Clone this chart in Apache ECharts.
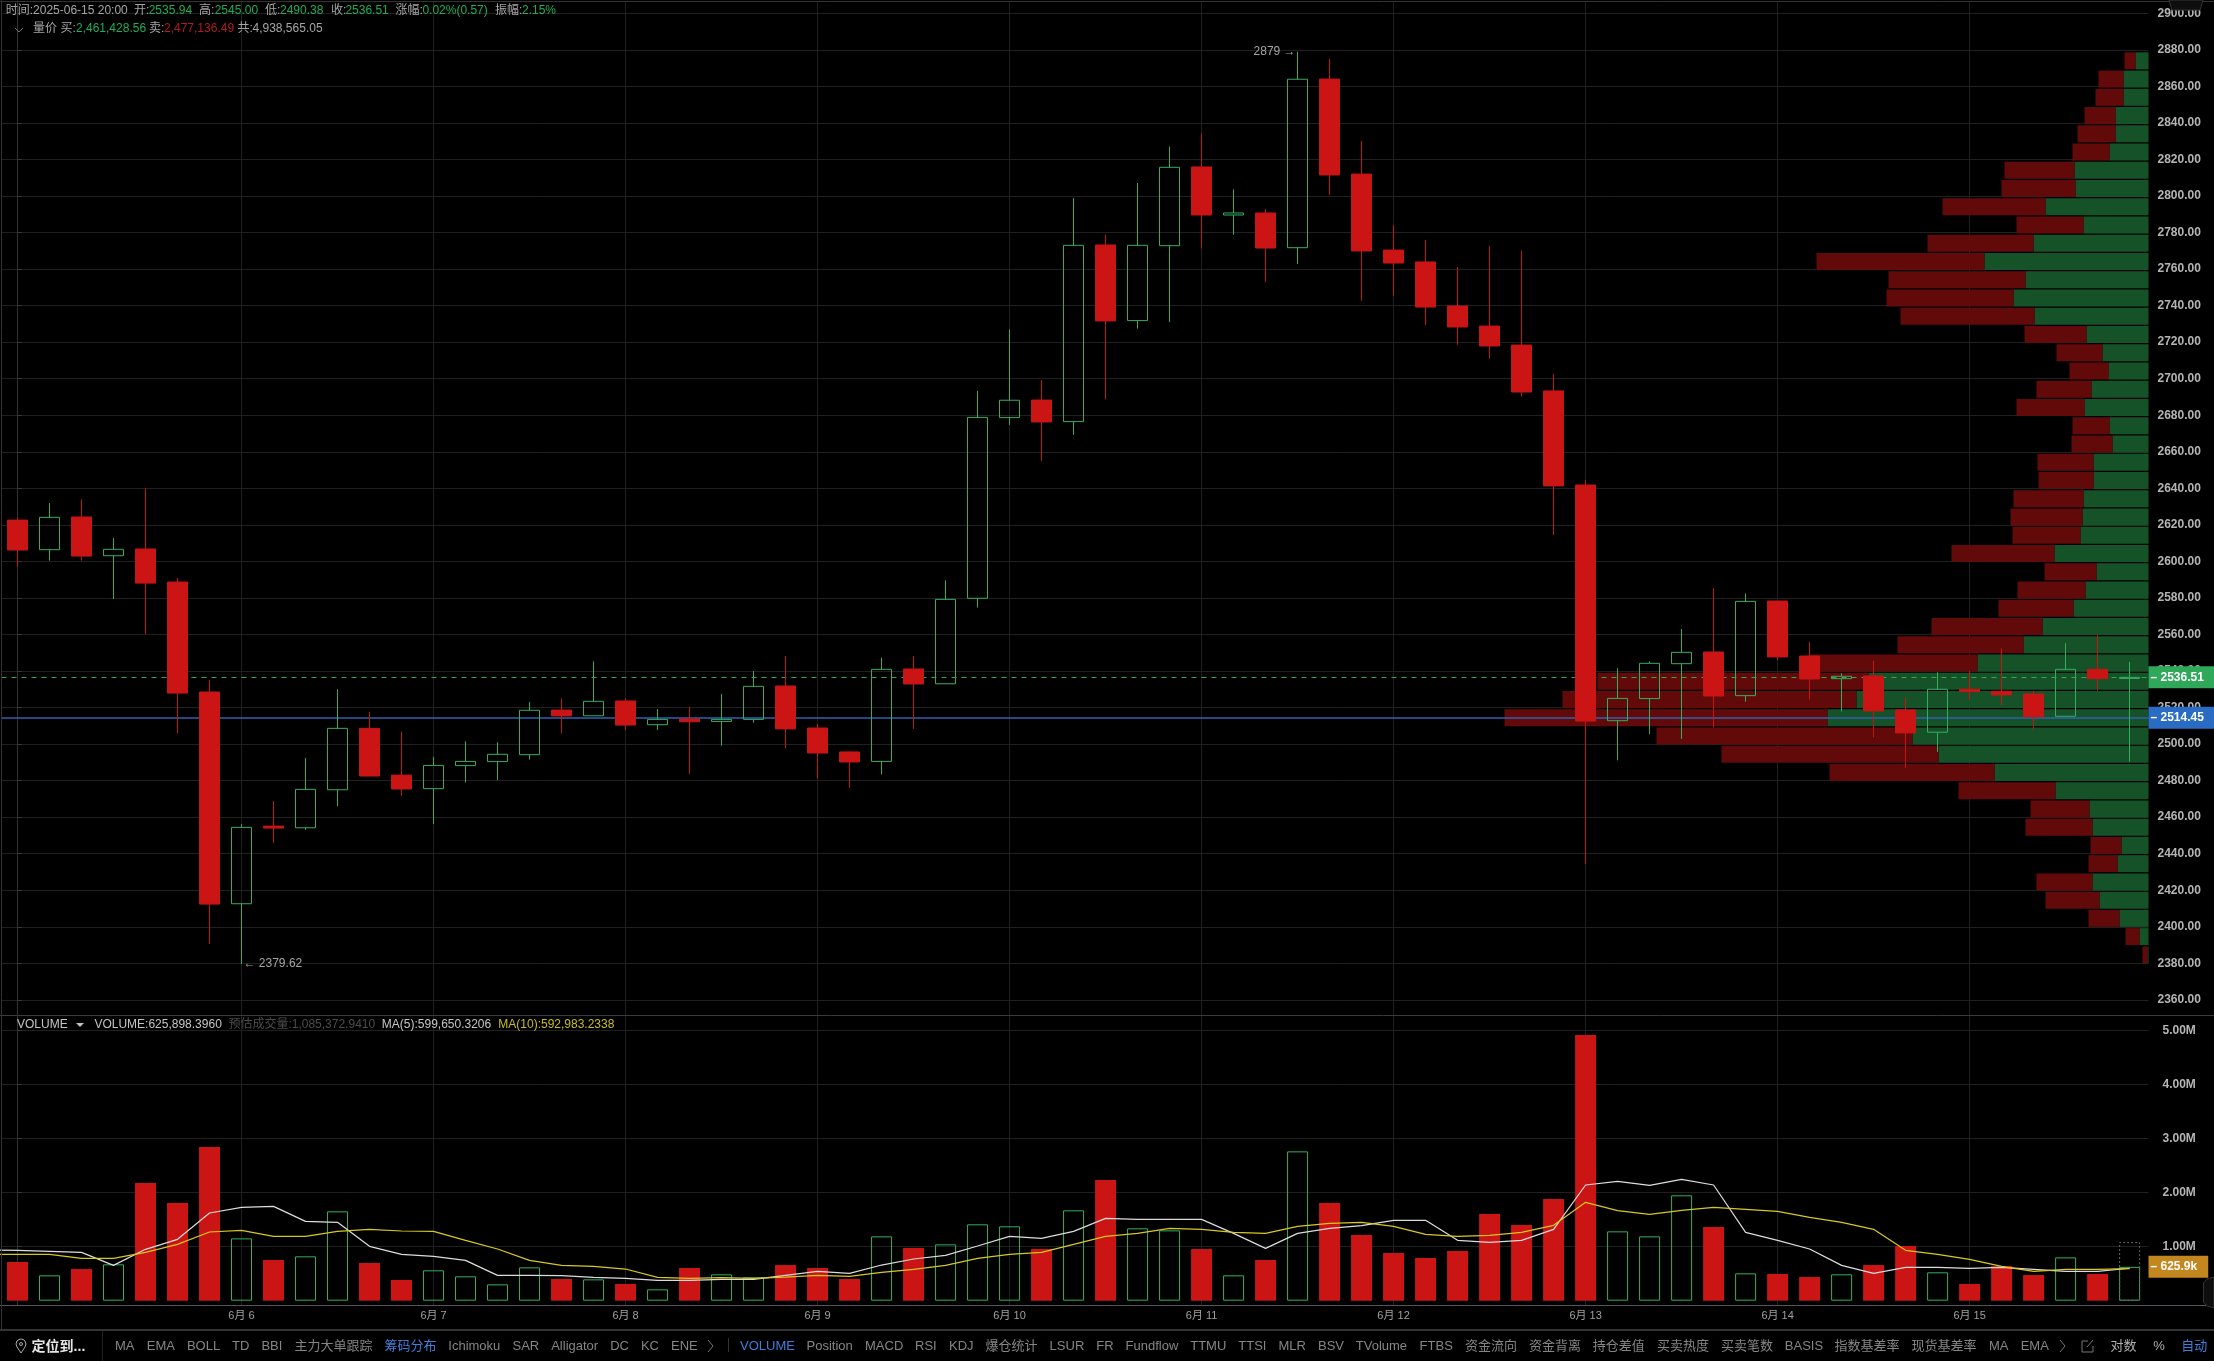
<!DOCTYPE html>
<html><head><meta charset="utf-8">
<style>html,body{margin:0;padding:0;background:#000}#c{width:2214px;height:1361px}</style>
<script src="https://cdn.jsdelivr.net/npm/echarts@6/dist/echarts.min.js"></script>
</head><body><div id="c"></div>
<script>
const opens=[2622.6,2606.4,2624.3,2603.1,2606.8,2588.7,2528.5,2412.6,2455.1,2454.2,2475,2508.6,2483,2475.6,2488.2,2490.4,2494.2,2518.6,2515.5,2523.6,2510.6,2513.7,2512.4,2513.5,2531.8,2508.8,2495.7,2490.5,2541.1,2533,2579.8,2678.7,2688.3,2676.5,2773.2,2731.8,2772.8,2815.9,2789.6,2790.7,2771.7,2864,2812,2770.4,2763.9,2739.8,2728.8,2718.4,2693.3,2641.8,2512.8,2524.9,2544,2550.4,2526.5,2578.3,2548.2,2535.8,2537.3,2518.7,2506.5,2530,2528.9,2527.4,2515.2,2540.9,2535.94];
const closes=[2606.2,2624.1,2602.9,2606.6,2588.1,2527.9,2412.4,2454.4,2454,2475.2,2508.6,2482.5,2475.4,2488.3,2490.5,2494.4,2518.5,2515.4,2523.4,2510.4,2513.5,2512.2,2513.5,2531.6,2508.3,2495.1,2490.2,2540.9,2532.9,2579.2,2678.8,2688.2,2676.3,2773,2731.6,2773,2815.7,2789.6,2790.7,2771.5,2863.9,2811.5,2769.9,2763.3,2739.2,2728.3,2717.9,2692.7,2641.3,2512.6,2525,2544.2,2550.2,2526.3,2578.1,2547.7,2535.6,2537.1,2518.1,2506.1,2530,2528.7,2526.9,2514.9,2540.9,2535.8,2536.51];
const highs=[2623.9,2631.9,2633.9,2612.8,2640,2590.9,2535.1,2456.2,2468.8,2492.4,2530,2517.5,2506.8,2493,2501.5,2501,2523,2525,2545.3,2525,2519.2,2520.3,2527.4,2540,2548.2,2511,2496,2547.3,2548.2,2589.6,2693.3,2727,2699.3,2798.9,2778.7,2807.1,2827,2834.3,2803.6,2792.9,2879,2875,2830.1,2784.1,2775.9,2761.1,2772.6,2770,2702.6,2644.5,2541.5,2545.3,2563,2585.4,2582.5,2578.3,2555.9,2538.8,2545.5,2525.4,2539.3,2540,2552.4,2529.3,2555.2,2560,2545];
const lows=[2597.1,2600.4,2600.4,2579.4,2560.2,2506,2390.6,2379.62,2445.8,2453,2466,2482.5,2471.7,2456.2,2479,2480.3,2491.5,2505.9,2515.5,2507.7,2507.7,2483.6,2499.1,2511.7,2497.7,2480.9,2476.1,2483.4,2508.3,2533,2574.7,2674.7,2655.1,2669.2,2688.7,2727.4,2731,2771.2,2778.8,2752.9,2762.8,2800.5,2742.7,2745.3,2729.4,2718.6,2711,2690.2,2614.4,2434.2,2491.1,2505.5,2502.8,2509,2523.2,2546,2524.3,2517.8,2503.7,2486.9,2495.7,2524.2,2521.4,2507.9,2515,2529.1,2490.38];
const volumes=[0.716,0.469,0.586,0.673,2.179,1.809,2.846,1.154,0.753,0.821,1.654,0.698,0.383,0.562,0.451,0.302,0.617,0.401,0.395,0.309,0.21,0.605,0.488,0.432,0.66,0.605,0.401,1.191,0.975,1.043,1.414,1.377,0.957,1.673,2.235,1.34,1.302,0.957,0.469,0.753,2.765,1.809,1.216,0.883,0.79,0.92,1.605,1.401,1.883,4.92,1.284,1.191,1.951,1.364,0.506,0.494,0.438,0.488,0.66,1.012,0.525,0.309,0.642,0.475,0.802,0.494,0.626];
const ma5=[0.932,0.914,0.895,0.654,0.951,1.136,1.623,1.728,1.747,1.469,1.451,1.006,0.858,0.821,0.747,0.469,0.469,0.463,0.432,0.414,0.377,0.377,0.395,0.395,0.469,0.543,0.506,0.66,0.772,0.84,1.012,1.191,1.154,1.284,1.525,1.506,1.506,1.506,1.247,0.969,1.247,1.34,1.389,1.488,1.488,1.117,1.08,1.117,1.321,2.142,2.21,2.136,2.247,2.142,1.265,1.117,0.957,0.654,0.506,0.617,0.617,0.599,0.617,0.58,0.543,0.543,0.6];
const ma10=[0.858,0.858,0.784,0.784,0.895,1.043,1.272,1.302,1.191,1.191,1.284,1.321,1.29,1.284,1.117,0.957,0.747,0.654,0.636,0.586,0.432,0.414,0.426,0.414,0.438,0.469,0.451,0.525,0.58,0.654,0.784,0.858,0.895,1.043,1.191,1.247,1.34,1.321,1.265,1.247,1.377,1.432,1.451,1.377,1.228,1.191,1.21,1.265,1.395,1.821,1.667,1.599,1.673,1.728,1.691,1.654,1.543,1.451,1.321,0.932,0.858,0.765,0.636,0.543,0.58,0.58,0.593];
const ma5Before=0.938, ma10Before=0.858;
const predictedVolume=1.085;
const profileRows=['2874','2864','2854','2844','2834','2824','2814','2804','2794','2784','2774','2764','2754','2744','2734','2724','2714','2704','2694','2684','2674','2664','2654','2644','2634','2624','2614','2604','2594','2584','2574','2564','2554','2544','2534','2524','2514','2504','2494','2484','2474','2464','2454','2444','2434','2424','2414','2404','2394','2384'];
const profileBuy=[13,25,25,33,33,39,74,73,103,65,115,164,123,135,114,62,46,40,57,64,39,36,55,55,65,66,68,94,52,63,75,106,125,171,280,292,321,236,210,154,93,59,56,27,31,56,49,29,9,1];
const profileSell=[11,25,28,31,38,37,70,74,103,67,106,168,137,127,134,62,46,39,55,68,37,41,56,55,70,72,68,103,52,68,75,111,126,167,271,294,323,256,217,165,97,59,67,31,29,56,54,31,14,5];
const priceTicks=[2360,2380,2400,2420,2440,2460,2480,2500,2520,2540,2560,2580,2600,2620,2640,2660,2680,2700,2720,2740,2760,2780,2800,2820,2840,2860,2880,2900];
const volumeTicks=[1,2,3,4,5];
const dayTicks=[7,13,19,25,31,37,43,49,55,61];
const dayLabels=['6月 6','6月 7','6月 8','6月 9','6月 10','6月 11','6月 12','6月 13','6月 14','6月 15'];
const lastPrice=2536.51, markPrice=2514.45, lastVolume=0.6259;
const toolbarItems=[['MA',115],['EMA',146.8],['BOLL',186.9],['TD',232],['BBI',261.4],['主力大单跟踪',294.5],['筹码分布',384.6,1],['Ichimoku',448.3],['SAR',512.5],['Alligator',551.2],['DC',610.2],['KC',640.9],['ENE',671],['VOLUME',740,1],['Position',806.5],['MACD',865],['RSI',915],['KDJ',949],['爆仓统计',985.4],['LSUR',1049.6],['FR',1096.3],['Fundflow',1125.6],['TTMU',1190.2],['TTSI',1238.3],['MLR',1278.5],['BSV',1318],['TVolume',1355.8],['FTBS',1419.6],['资金流向',1464.9],['资金背离',1529],['持仓差值',1592.8],['买卖热度',1657],['买卖笔数',1721],['BASIS',1784.8],['指数基差率',1834.4],['现货基差率',1911.6],['MA',1989],['EMA',2020.7],['对数',2110.6,2],['%',2153.2,2],['自动',2181.3,1]];

const F='"Liberation Sans","Noto Sans CJK SC",sans-serif';
const GRAY='#a6a6a6',UP='#1fae55',DOWN='#b01c1c';
const headerRow1=[['时间:2025-06-15 20:00',5.7,GRAY],['开:',134,GRAY],['2535.94',148.7,UP],['高:',199,GRAY],['2545.00',214.7,UP],['低:',265,GRAY],['2490.38',280,UP],['收:',331,GRAY],['2536.51',345.4,UP],['涨幅:',395.5,GRAY],['0.02%(0.57)',422.4,UP],['振幅:',495,GRAY],['2.15%',522,UP]];
const headerRow2=[['量价',33,GRAY],['买:',60.4,GRAY],['2,461,428.56',76,UP],['卖:',149,GRAY],['2,477,136.49',164,DOWN],['共:',237.4,GRAY],['4,938,565.05',252.5,GRAY]];
const volumeHeader=[['VOLUME',17,'#c4c4c4'],['VOLUME:625,898.3960',94.4,'#c4c4c4'],['预估成交量:1,085,372.9410',228.4,'#4c4c4c'],['MA(5):599,650.3206',381.8,'#c4c4c4'],['MA(10):592,983.2338',498.3,'#c8bd1e']];

const txt=(t,x,y,fill,size,weight)=>({type:'text',z:50,silent:true,style:{text:t,x,y,fill,font:(weight||'normal')+' '+(size||12)+'px '+F,verticalAlign:'middle',align:'left'}});
const hline=(y,c,x1,x2,w)=>({type:'line',z:40,silent:true,shape:{x1:x1||0,y1:y,x2:x2||2214,y2:y},style:{stroke:c,lineWidth:w||1}});
const vline=(x,y1,y2,c)=>({type:'line',z:40,silent:true,shape:{x1:x,y1,x2:x,y2},style:{stroke:c,lineWidth:1}});
const poly=(pts,stroke)=>({type:'polyline',z:52,silent:true,shape:{points:pts},style:{stroke,fill:null,lineWidth:1}});

const graphics=[
  hline(1.5,'#333'),hline(1015.5,'#3a3a3a'),hline(1305.5,'#54545e'),hline(1330,'#333',0,2214,2),
  vline(1.5,0,1330,'#333'),vline(102.5,1331,1361,'#222'),vline(728.5,1338,1352,'#333'),
  ...headerRow1.map(a=>txt(a[0],a[1],11,a[2])),
  ...headerRow2.map(a=>txt(a[0],a[1],29,a[2])),
  ...volumeHeader.map(a=>txt(a[0],a[1],1025,a[2])),
  ...toolbarItems.map(a=>txt(a[0],a[1],1346,a[2]===1?'#3f7fdc':(a[2]===2?'#b0b0b0':'#858585'),13)),
  txt('定位到...',31.6,1347,'#e6e6e6',14,'bold'),
  poly([[15,28],[19,32],[23,28]],'#777'),
  {type:'polygon',z:52,silent:true,shape:{points:[[76,1023],[84,1023],[80,1027]]},style:{fill:'#c4c4c4'}},
  poly([[21,1353],[17,1347],[16,1344],[17,1341],[19,1339.5],[21,1339],[23,1339.5],[25,1341],[26,1344],[25,1347],[21,1353]],'#aaa'),
  {type:'circle',z:52,silent:true,shape:{cx:21,cy:1344,r:1.5},style:{stroke:'#aaa',fill:null}},
  poly([[708,1340],[713,1346],[708,1352]],'#777'),
  poly([[2060,1340],[2065,1346],[2060,1352]],'#777'),
  poly([[2088,1341],[2082,1341],[2082,1352],[2093,1352],[2093,1346]],'#777'),
  poly([[2087,1347],[2093,1340]],'#777'),
  {type:'polygon',z:60,silent:true,shape:{points:[[2169,0],[2203,0],[2200,10],[2172,10]]},style:{fill:'#0e0e0e',stroke:'#333'}},
  poly([[2183,6],[2186,3],[2189,6]],'#888'),
  {type:'polygon',z:60,silent:true,shape:{points:[[2214,1277],[2207,1279],[2203.5,1283],[2203.5,1302],[2207,1306],[2214,1308]]},style:{fill:'#0e0e0e',stroke:'#333'}},
  poly([[2207,1288],[2210,1292],[2207,1296]],'#888')
];

const GRID='#202020',AXIS='#333';
const dayAxis={type:'value',min:-0.5,max:66.59,axisLine:{show:false},
  axisTick:{show:false,customValues:dayTicks},
  axisLabel:{show:false,customValues:dayTicks},
  splitLine:{show:true,customValues:dayTicks,lineStyle:{color:GRID,width:1}}};
const tags=(v,txtv,bg)=>({yAxis:v,label:{show:true,position:'end',distance:0,formatter:'– '+txtv,color:'#fff',fontWeight:'bold',fontSize:12,fontFamily:F,backgroundColor:bg,padding:[5,11,5,2],lineHeight:12}});

const option={
  backgroundColor:'#000',animation:false,
  textStyle:{fontFamily:F},
  grid:[
    {left:1.5,top:1,width:2147,height:1014},
    {left:1.5,top:1015,width:2147,height:290},
    {left:1400,top:51.7,width:748.5,height:912.3}
  ],
  xAxis:[
    Object.assign({gridIndex:0},dayAxis),
    Object.assign({gridIndex:1},dayAxis,{axisLabel:{show:true,customValues:dayTicks,color:'#a0a0a0',fontSize:11,margin:5,
      formatter:v=>dayLabels[dayTicks.indexOf(Math.round(v))]||''}}),
    {gridIndex:2,type:'value',min:0,max:748.5,inverse:true,show:false}
  ],
  yAxis:[
    {gridIndex:0,type:'value',position:'right',min:2351.7,max:2906.73,
      axisLine:{show:true,lineStyle:{color:AXIS}},
      axisTick:{show:true,length:4,customValues:priceTicks,lineStyle:{color:'#3a3a3a'}},
      splitLine:{show:true,customValues:priceTicks,lineStyle:{color:GRID}},
      axisLabel:{show:true,customValues:priceTicks,color:'#b4b4b4',fontSize:12,fontWeight:'bold',margin:9,formatter:v=>v.toFixed(2)}},
    {gridIndex:1,type:'value',position:'right',min:-0.08,max:5.29,
      axisLine:{show:true,lineStyle:{color:AXIS}},
      axisTick:{show:true,length:4,customValues:volumeTicks,lineStyle:{color:'#3a3a3a'}},
      splitLine:{show:true,customValues:volumeTicks,lineStyle:{color:GRID}},
      axisLabel:{show:true,customValues:volumeTicks,color:'#b4b4b4',fontSize:12,fontWeight:'bold',margin:14,formatter:v=>v.toFixed(2)+'M'}},
    {gridIndex:2,type:'category',inverse:true,show:false,data:profileRows}
  ],
  series:[
    {name:'买',type:'bar',xAxisIndex:2,yAxisIndex:2,stack:'profile',barWidth:17,z:1,data:profileBuy,itemStyle:{color:'#17552a',opacity:0.96},silent:true},
    {name:'卖',type:'bar',xAxisIndex:2,yAxisIndex:2,stack:'profile',barWidth:17,z:1,data:profileSell,itemStyle:{color:'#660a0a',opacity:0.96},silent:true},
    {name:'K',type:'candlestick',xAxisIndex:0,yAxisIndex:0,z:3,barWidth:21,
      data:opens.map((o,i)=>[i,o,closes[i],lows[i],highs[i]]),
      itemStyle:{color:'transparent',color0:'#cb1414',borderColor:'#33ad60',borderColor0:'#c51616',borderWidth:1},
      markLine:{silent:true,symbol:'none',z:2,animation:false,data:[
        Object.assign(tags(lastPrice,lastPrice.toFixed(2),'#2fa85a'),{lineStyle:{color:'#2fa85a',type:[5,5],width:1}}),
        Object.assign(tags(markPrice,markPrice.toFixed(2),'#2a6cc4'),{lineStyle:{color:'#2f62b0',type:'solid',width:1.5}})
      ]},
      markPoint:{silent:true,symbol:'circle',symbolSize:0,animation:false,data:[
        {coord:[40,2879],label:{show:true,position:'left',distance:2,formatter:'2879 →',color:'#a6a6a6',fontSize:12}},
        {coord:[7,2379.62],label:{show:true,position:'right',distance:2,formatter:'← 2379.62',color:'#a6a6a6',fontSize:12}}
      ]}
    },
    {name:'VOLUME',type:'bar',xAxisIndex:1,yAxisIndex:1,z:3,barWidth:21,barGap:'-100%',
      data:volumes.map((v,i)=>({value:[i,v],itemStyle:closes[i]>=opens[i]?{color:'transparent',borderColor:'#2fb15c',borderWidth:1}:{color:'#cb1414'}})),
      markLine:{silent:true,symbol:'none',animation:false,data:[
        Object.assign(tags(lastVolume,'625.9k','#c4871f'),{lineStyle:{color:'rgba(0,0,0,0)',width:1}})
      ]}},
    {name:'预估成交量',type:'bar',xAxisIndex:1,yAxisIndex:1,z:3,barWidth:21,barGap:'-100%',
      data:[[66,predictedVolume]],itemStyle:{color:'transparent',borderColor:'#666',borderWidth:1,borderType:[2,2]}},
    {name:'MA5',type:'line',xAxisIndex:1,yAxisIndex:1,z:4,symbol:'none',data:[[-1,ma5Before],...ma5.map((v,i)=>[i,v])],lineStyle:{color:'#dcdcdc',width:1.2}},
    {name:'MA10',type:'line',xAxisIndex:1,yAxisIndex:1,z:4,symbol:'none',data:[[-1,ma10Before],...ma10.map((v,i)=>[i,v])],lineStyle:{color:'#d8c81e',width:1.2}}
  ],
  graphic:graphics
};
const chart=echarts.init(document.getElementById('c'),null,{renderer:'canvas',width:2214,height:1361});
chart.setOption(option);
</script></body></html>
